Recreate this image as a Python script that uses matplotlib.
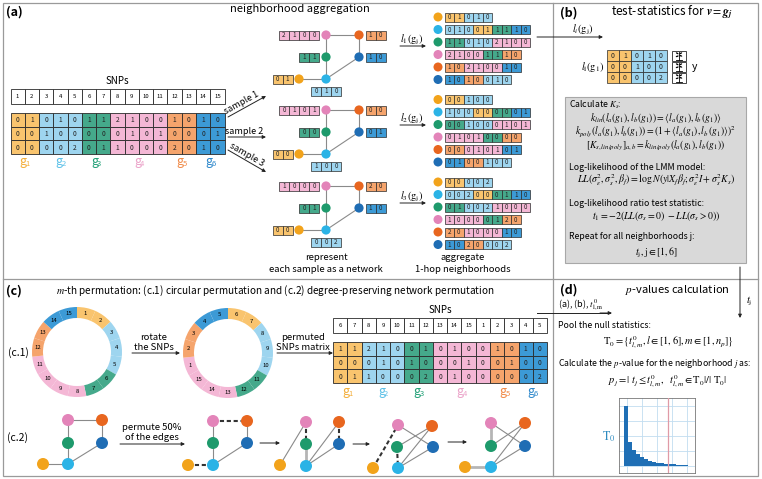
import numpy as np
import matplotlib
matplotlib.use("Agg")
import matplotlib.pyplot as plt
from matplotlib.patches import Rectangle, Circle, Wedge, Ellipse

plt.rcParams['font.family'] = ['Noto Sans CJK JP', 'DejaVu Sans']
plt.rcParams['mathtext.fontset'] = 'stix'

# ---------------- data ----------------
snp_ids = list(range(1, 16))
group_names = ['1', '2', '3', '4', '5', '6']
snp_group = [0, 0, 1, 1, 1, 2, 2, 3, 3, 3, 3, 4, 4, 5, 5]
sample1 = [0, 1, 0, 1, 0, 1, 1, 2, 1, 0, 0, 1, 0, 1, 0]
sample2 = [0, 0, 1, 0, 0, 0, 0, 0, 1, 0, 1, 0, 0, 0, 1]
sample3 = [0, 0, 0, 0, 2, 0, 1, 1, 0, 0, 0, 2, 0, 1, 0]
rotation = 5
network_edges = [(3, 4), (3, 2), (2, 1), (0, 1), (1, 5), (5, 4)]
neighborhoods = [[0, 1], [1, 0, 2, 5], [2, 1, 3], [3, 2, 4], [4, 3, 5], [5, 4, 1]]
perm_net_edges = [
    [((3, 4), 's'), ((3, 2), 's'), ((2, 1), 's'), ((0, 1), 's'), ((1, 5), 's'), ((5, 4), 's')],
    [((3, 4), 'd'), ((3, 2), 's'), ((2, 1), 's'), ((0, 1), 'd'), ((1, 5), 's'), ((5, 4), 's')],
    [((0, 3), 's'), ((3, 2), 'd'), ((2, 1), 'g'), ((1, 4), 's'), ((1, 5), 's'), ((4, 5), 'd')],
    [((0, 3), 'd'), ((3, 5), 's'), ((2, 4), 's'), ((2, 1), 'd'), ((1, 4), 's'), ((1, 5), 's')],
    [((3, 2), 'g'), ((3, 5), 's'), ((2, 4), 's'), ((0, 1), 'g'), ((1, 4), 's'), ((1, 5), 's')],
]
null_stat_hist = [60, 24, 16, 12, 9, 7, 5.5, 4.5, 3.5, 3, 2.5, 2, 1.6, 1.3, 1.0, 0.8]
t_obs_position = 11

cell_colors = ['#F9C46E', '#9ED5EF', '#45A98B', '#F4B7D5', '#F5A46C', '#3C9AD6']
node_colors = ['#F2A31B', '#2BB3E6', '#1E9A6C', '#E384B9', '#E8661F', '#1F6DB4']
label_colors = ['#F3AE3A', '#5DC1E8', '#22A077', '#EBA3C9', '#F08A48', '#2E88CB']
EDGE = '#2a2a2a'
LINE = '#9a9a9a'

samples = [sample1, sample2, sample3]

fig = plt.figure(figsize=(7.62, 4.79), dpi=100)
ax = fig.add_axes([0, 0, 1, 1])
ax.set_xlim(0, 762)
ax.set_ylim(479, 0)
ax.axis('off')


def arrow(p0, p1, lw=0.7, ms=5):
    ax.annotate('', xy=p1, xytext=p0,
                arrowprops=dict(arrowstyle='-|>', lw=lw, color='#222222',
                                mutation_scale=ms, shrinkA=0, shrinkB=0))


def group_vals(row, g):
    return [row[i] for i in range(len(row)) if snp_group[i] == g]


def cells(x0, y0, vals, cols, w, h, fs=4.5):
    for i, (v, c) in enumerate(zip(vals, cols)):
        ax.add_patch(Rectangle((x0 + i * w, y0), w, h, fc=c, ec=EDGE, lw=0.5))
        ax.text(x0 + (i + 0.5) * w, y0 + h / 2 + 0.3, str(v), ha='center', va='center',
                fontsize=fs, color='#222222')


def glabel(xc, y, g):
    ax.text(xc - 1.5, y, 'g', fontsize=9, color=label_colors[g], ha='center', va='center')
    ax.text(xc + 3.2, y + 2.5, group_names[g], fontsize=5.5, color=label_colors[g],
            ha='center', va='center')


# ---------------- borders ----------------
ax.add_patch(Rectangle((3, 3), 755, 473, fill=False, ec=LINE, lw=0.9))
ax.plot([553, 553], [3, 476], color=LINE, lw=0.9)
ax.plot([3, 758], [279, 279], color=LINE, lw=0.9)

# ---------------- panel (a) ----------------
ax.text(6, 12, '(a)', fontsize=9, weight='bold', va='center')
ax.text(300, 9, 'neighborhood aggregation', fontsize=8, ha='center', va='center')


def snp_matrix(x0, y_head, y_mat, ids, rows, y_lab):
    cw, ch = 14.27, 13.7
    ax.text(x0 + 7.5 * cw, y_head - 8, 'SNPs', fontsize=7, ha='center', va='center')
    for i, sid in enumerate(ids):
        ax.add_patch(Rectangle((x0 + i * cw, y_head), cw, 15, fc='white', ec=EDGE, lw=0.6))
        ax.text(x0 + (i + 0.5) * cw, y_head + 7.5, str(sid), fontsize=4.3, style='italic',
                ha='center', va='center')
    for r, row in enumerate(rows):
        for i, v in enumerate(row):
            ax.add_patch(Rectangle((x0 + i * cw, y_mat + r * ch), cw, ch,
                                   fc=cell_colors[snp_group[i]], ec=EDGE, lw=0.6))
            ax.text(x0 + (i + 0.5) * cw, y_mat + (r + 0.5) * ch + 0.3, str(v), fontsize=4.8,
                    ha='center', va='center', color='#222222')
    for g in range(6):
        idx = [i for i in range(15) if snp_group[i] == g]
        xc = x0 + (np.mean(idx) + 0.5) * cw
        glabel(xc, y_lab, g)


snp_matrix(10.5, 89, 113, snp_ids, samples, 162)

# sample arrows
sample_arrows = [((228, 117), (266, 96)), ((228, 137), (266, 137)), ((228, 150), (266, 172))]
for k, (p0, p1) in enumerate(sample_arrows):
    arrow(p0, p1)
    dx, dy = p1[0] - p0[0], p1[1] - p0[1]
    L = np.hypot(dx, dy)
    ang = np.degrees(np.arctan2(-dy, dx))
    mx, my = (p0[0] + p1[0]) / 2 - 3 * dx / L, (p0[1] + p1[1]) / 2 - 3 * dy / L
    nx, ny = dy / L, -dx / L
    ax.text(mx + 1.2 * nx, my + 1.2 * ny, 'sample %d' % (k + 1), fontsize=6.5,
            rotation=ang, rotation_mode='anchor', ha='center', va='bottom')

# networks
net_pos = {0: (299, 79), 1: (326, 79), 2: (326, 57), 3: (326, 35), 4: (359, 35), 5: (359, 57)}
net_offsets = [0, 75, 151]
lw_c, lh_c = 10, 9
for s, row in enumerate(samples):
    oy = net_offsets[s]
    for a, b in network_edges:
        ax.plot([net_pos[a][0], net_pos[b][0]], [net_pos[a][1] + oy, net_pos[b][1] + oy],
                color='#8a8a8a', lw=0.8, zorder=1)
    for g in range(6):
        x, y = net_pos[g]
        y += oy
        ax.add_patch(Circle((x, y), 4.6, fc=node_colors[g], ec='none', zorder=3))
        vals = group_vals(row, g)
        n = len(vals)
        if g in (2, 3):
            x0 = x - 7 - n * lw_c
            y0 = y - lh_c / 2
        elif g == 0:
            x0 = x - 6.5 - n * lw_c
            y0 = y - lh_c / 2
        elif g in (4, 5):
            x0 = x + 6.5
            y0 = y - lh_c / 2
        else:
            x0 = x - n * lw_c / 2
            y0 = y + 7.5
        cells(x0, y0, vals, [cell_colors[g]] * n, lw_c, lh_c)

ax.text(326, 258, 'represent', fontsize=6.8, ha='center', va='center')
ax.text(326, 270, 'each sample as a network', fontsize=6.8, ha='center', va='center')
ax.text(463, 258, 'aggregate', fontsize=6.8, ha='center', va='center')
ax.text(463, 270, '1-hop neighborhoods', fontsize=6.8, ha='center', va='center')

# aggregated neighborhoods
agg_block_y = [17, 99.5, 182]
arrow_y = [46, 125, 203]
for s, row in enumerate(samples):
    arrow((400, arrow_y[s]), (426, arrow_y[s]))
    ax.text(412, arrow_y[s] - 6.5, r'$l_%d(\mathrm{g_j})$' % (s + 1), fontsize=7.5,
            ha='center', va='center')
    for j, nb in enumerate(neighborhoods):
        y = agg_block_y[s] + j * 12.5
        ax.add_patch(Circle((438, y), 4.5, fc=node_colors[j], ec='none'))
        vals, cols = [], []
        for g in nb:
            v = group_vals(row, g)
            vals += v
            cols += [cell_colors[g]] * len(v)
        cells(444.5, y - 4.5, vals, cols, 9.5, 9)

# ---------------- panel (b) ----------------
ax.text(560, 13, '(b)', fontsize=9, weight='bold', va='center')
ax.text(672, 12, r'test-statistics for $\mathbfit{v} = \mathbfit{g_j}$', fontsize=8.5,
        ha='center', va='center')
arrow((537, 37), (603, 37))
ax.text(583, 30, r'$l_i(\mathrm{g_j})$', fontsize=7.5, ha='center', va='center')

bx0, by0, bcw, bch = 607, 50, 12, 11
for r, row in enumerate(samples):
    vals, cols = [], []
    for g in neighborhoods[0]:
        v = group_vals(row, g)
        vals += v
        cols += [cell_colors[g]] * len(v)
    cells(bx0, by0 + r * bch, vals, cols, bcw, bch, fs=5)
ax.text(604, by0 + 1.5 * bch, r'$l_\mathrm{l}(\mathrm{g_1})$', fontsize=7.5, ha='right', va='center')


def plant(cx, cy):
    ax.plot([cx, cx], [cy + 4, cy - 3.5], color='k', lw=0.6)
    ax.plot([cx - 3, cx + 3], [cy + 4, cy + 4], color='k', lw=0.6)
    for (ex, ey, ang) in [(-1.8, -2.2, 30), (1.8, -2.2, -30), (-1.8, 0.8, -20), (1.8, 0.3, 20)]:
        ax.add_patch(Ellipse((cx + ex, cy + ey), 3.0, 1.4, angle=ang, fc='k', ec='none'))


for r in range(3):
    ax.add_patch(Rectangle((672, by0 + r * bch + 0.5), 14, bch - 1, fc='white', ec=EDGE, lw=0.6))
    plant(679, by0 + r * bch + bch / 2)
ax.text(692, by0 + 1.5 * bch, 'y', fontsize=7.5, ha='left', va='center')

ax.add_patch(Rectangle((565, 97), 181, 166, fc='#D9D9D9', ec='#A8A8A8', lw=0.8))
ax.text(569, 105, r'Calculate $K_s$:', fontsize=6.3, ha='left', va='center')
fx = 656
FS = 6.9
ax.text(fx, 118, r'$k_{lin}(l_a(g_1), l_b(g_1)) = \langle l_a(g_1), l_b\,(g_1)\rangle$',
        fontsize=FS, ha='center', va='center')
ax.text(fx, 131.5, r'$k_{poly}(l_a(g_1), l_b(g_1)) = (1 + \langle l_a(g_1), l_b\,(g_1)\rangle)^2$',
        fontsize=FS, ha='center', va='center')
ax.text(fx, 146, r'$[K_{s,lin/poly}]_{a,b} = k_{lin/poly}(l_a(g_1), l_b(g_1))$',
        fontsize=FS, ha='center', va='center')
ax.text(569, 167, 'Log-likelihood of the LMM model:', fontsize=6.3, ha='left', va='center')
ax.text(fx, 180, r'$LL(\sigma_\epsilon^2, \sigma_s^2, \beta_f) = \log N(y|X_f\beta_f; \sigma_\epsilon^2 I + \sigma_s^2 K_s)$',
        fontsize=FS + 0.2, ha='center', va='center')
ax.text(569, 203, 'Log-likelihood ratio test statistic:', fontsize=6.3, ha='left', va='center')
ax.text(fx, 216, r'$t_1 = -2(LL(\sigma_s = 0)\ - LL(\sigma_s > 0))$', fontsize=FS + 0.2,
        ha='center', va='center')
ax.text(569, 236, 'Repeat for all neighborhoods j:', fontsize=6.3, ha='left', va='center')
ax.text(fx, 253, r'$t_\mathrm{j}, \mathrm{j} \in [1, 6]$', fontsize=FS + 0.2, ha='center', va='center')

# ---------------- panel (d) ----------------
arrow((740, 267), (740, 318))
ax.text(746, 301, r'$t_\mathrm{j}$', fontsize=7.5, ha='left', va='center')
ax.text(560, 290, '(d)', fontsize=9, weight='bold', va='center')
ax.text(677, 290, r'$p$-values calculation', fontsize=8, ha='center', va='center')
ax.plot([537, 610], [313, 313], color='#222222', lw=0.7)
arrow((600, 313), (612, 313))
ax.text(558, 305, r'(a), (b), $t^0_{\mathrm{l,m}}$', fontsize=6.5, ha='left', va='center')
ax.text(558, 325, 'Pool the null statistics:', fontsize=6.3, ha='left', va='center')
ax.text(668, 343, r'$\mathrm{T}_0 = \{t^0_{l,m}, l \in [1,6], m \in [1, n_p]\}$', fontsize=7.5,
        ha='center', va='center')
ax.text(558, 363, r'Calculate the $p$-value for the neighborhood $j$ as:', fontsize=6.3,
        ha='left', va='center')
ax.text(668, 382, r'$p_j = |\ t_j \leq t^0_{l,m},\ \ t^0_{l,m} \in \mathrm{T}_0|/|\ \mathrm{T}_0|$',
        fontsize=7.5, ha='center', va='center')
ax.text(609, 437, r'$\mathrm{T}_0$', fontsize=8.5, color='#2E8BC0', ha='center', va='center')

hax = fig.add_axes([619 / 762, 1 - 473 / 479, 76 / 762, 75 / 479])
for gx in np.arange(-1.25 + 3.75 / 2, 17.75, 3.75):
    hax.axvline(gx, color='#C2DDF0', lw=0.6, zorder=0)
for gy in np.arange(0, 68, 15):
    hax.axhline(gy, color='#C2DDF0', lw=0.6, zorder=0)
hax.bar(np.arange(len(null_stat_hist)), null_stat_hist, width=1.0, align='edge',
        color='#1F6FB5', lw=0, zorder=2)
hax.axvline(t_obs_position, color='#E09AA6', lw=0.9, zorder=3)
hax.set_xlim(-1.25, 17.75)
hax.set_ylim(-7, 68)
hax.set_xticks([])
hax.set_yticks([])
for sp in hax.spines.values():
    sp.set_color('#777777')
    sp.set_linewidth(0.6)
ax.text(676, 418, r'$t_j$', fontsize=7.5, ha='center', va='center')

# ---------------- panel (c) ----------------
ax.text(6, 291, '(c)', fontsize=9, weight='bold', va='center')
ax.text(275, 291, r'$m$-th permutation: (c.1) circular permutation and (c.2) degree-preserving network permutation',
        fontsize=7.2, ha='center', va='center')
ax.text(18, 353, '(c.1)', fontsize=7.5, ha='center', va='center')
ax.text(18, 438, '(c.2)', fontsize=7.5, ha='center', va='center')


def ring(cx, cy, labels, R=45, w=11):
    for k in range(15):
        t1 = -90 + 24 * k
        ax.add_patch(Wedge((cx, cy), R, t1, t1 + 24, width=w,
                           fc=cell_colors[snp_group[k]], ec='none'))
        tm = np.radians(t1 + 12)
        rr = R - w / 2
        ax.text(cx + rr * np.cos(tm), cy + rr * np.sin(tm), str(labels[k]), fontsize=4.3,
                style='italic', ha='center', va='center')


ring(77, 352, snp_ids)
ring(228, 353, list(np.roll(snp_ids, -rotation)))
arrow((132, 353), (180, 353))
ax.text(154, 338, 'rotate', fontsize=6.8, ha='center', va='center')
ax.text(154, 348, 'the SNPs', fontsize=6.8, ha='center', va='center')
arrow((277, 353), (333, 353))
ax.text(303, 337, 'permuted', fontsize=6.8, ha='center', va='center')
ax.text(303, 347, 'SNPs matrix', fontsize=6.8, ha='center', va='center')

perm_rows = [list(np.roll(r, -rotation)) for r in samples]
snp_matrix(333, 318, 342, list(np.roll(snp_ids, -rotation)), perm_rows, 391)

# c.2 networks
c2_layouts = [
    {0: (43, 464), 1: (68, 464), 2: (68, 443), 3: (68, 420), 4: (102, 420), 5: (102, 443)},
    {0: (188, 465), 1: (213, 465), 2: (213, 443), 3: (213, 421), 4: (247, 421), 5: (247, 443)},
    {0: (280, 465), 1: (306, 466), 2: (306, 444), 3: (306, 422), 4: (339, 422), 5: (339, 444)},
    {0: (373, 468), 1: (398, 468), 2: (397, 447), 3: (398, 425), 4: (432, 426), 5: (433, 447)},
    {0: (465, 467), 1: (491, 467), 2: (491, 446), 3: (491, 423), 4: (525, 423), 5: (525, 446)},
]
for lay, edges in zip(c2_layouts, perm_net_edges):
    for (a, b), st in edges:
        xs = [lay[a][0], lay[b][0]]
        ys = [lay[a][1], lay[b][1]]
        if st == 's':
            ax.plot(xs, ys, color='#8a8a8a', lw=0.8, zorder=1)
        elif st == 'g':
            ax.plot(xs, ys, color='#b5b5b5', lw=2.0, zorder=1)
        else:
            ax.plot(xs, ys, color='#333333', lw=1.5, ls=(0, (2, 1.3)), zorder=1)
    for g in range(6):
        ax.add_patch(Circle(lay[g], 6, fc=node_colors[g], ec='none', zorder=3))

ax.text(152, 428, 'permute 50%', fontsize=6.8, ha='center', va='center')
ax.text(152, 437, 'of the edges', fontsize=6.8, ha='center', va='center')
arrow((120, 444), (185, 444))
arrow((260, 443), (280, 443))
arrow((353, 444), (370, 444))
arrow((448, 442), (467, 442))

fig.savefig('out.png', dpi=100)
